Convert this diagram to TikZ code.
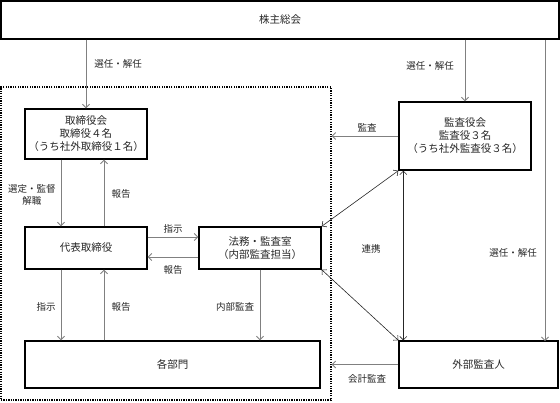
\documentclass[tikz,border=0pt]{standalone}
\usepackage{fontspec}
\setmainfont{Noto Sans CJK JP}
\usetikzlibrary{arrows.meta,calc}
\begin{document}
\begin{tikzpicture}[x=1pt,y=-1pt,
  box/.style={draw=black,line width=1.4pt,inner sep=0pt,align=center,font=\fontsize{10.5}{13}\selectfont,text=black!85},
  arr/.style={draw=black!50,line width=0.8pt,-{Straight Barb[length=3.5pt,width=7pt]}},
  dbl/.style={draw=black!85,line width=0.6pt,{Straight Barb[length=3.5pt,width=7pt]}-{Straight Barb[length=3.5pt,width=7pt]}},
  lbl/.style={inner sep=0pt,align=center,font=\fontsize{9.5}{11.5}\selectfont,text=black!85},
  grpbox/.style={draw=black,line width=1.3pt,dash pattern=on 1.3pt off 1.1pt,inner sep=0pt}]
\useasboundingbox (0,0) rectangle (560,402);
% group
\node[grpbox,minimum width=330pt,minimum height=313pt] (grp) at (166,243.5) {};
% boxes
\node[box,minimum width=558pt,minimum height=38pt] (top) at (280,20) {株主総会};
\node[box,minimum width=122pt,minimum height=50pt] (tori) at (86,134) {取締役会\\取締役４名\\（うち社外取締役１名）};
\node[box,minimum width=122pt,minimum height=42pt] (daihyo) at (86,248) {代表取締役};
\node[box,minimum width=122pt,minimum height=42pt] (homu) at (260,248) {法務・監査室\\（内部監査担当）};
\node[box,minimum width=132pt,minimum height=68pt] (kansa) at (465,136) {監査役会\\監査役３名\\（うち社外監査役３名）};
\node[box,minimum width=295pt,minimum height=47pt] (kakubu) at (172.5,364.5) {各部門};
\node[box,minimum width=159pt,minimum height=47pt] (gaibu) at (478.5,364.5) {外部監査人};
\coordinate (rtop) at (545,40);
\coordinate (rbot) at (545,341);
% arrows
\draw[arr] (top.south -| tori.north) -- (tori.north);
\draw[arr] (top.south -| kansa.north) -- (kansa.north);
\draw[arr] (rtop) -- (rbot);
\draw[arr] ([xshift=-25pt]tori.south) -- ([xshift=-25pt]daihyo.north);
\draw[arr] ([xshift=18pt]daihyo.north) -- ([xshift=18pt]tori.south);
\draw[arr] ([yshift=11pt]daihyo.east) -- ([yshift=11pt]homu.west);
\draw[arr] ([yshift=-9pt]homu.west) -- ([yshift=-9pt]daihyo.east);
\draw[arr] (kansa.west) -- (kansa.west -| grp.east);
\draw[arr] (gaibu.west) -- (gaibu.west -| grp.east);
\draw[arr] ([xshift=-25pt]daihyo.south) -- ([xshift=-25pt]daihyo.south |- kakubu.north);
\draw[arr] ([xshift=18pt]daihyo.south |- kakubu.north) -- ([xshift=18pt]daihyo.south);
\draw[arr] (homu.south) -- (homu.south |- kakubu.north);
\draw[dbl] (kansa.south west) -- (homu.north east);
\draw[dbl] (homu.south east) -- (gaibu.north west);
\draw[dbl] ([xshift=5pt]kansa.south west) -- ([xshift=5pt]kansa.south west |- gaibu.north);
% labels
\node[lbl] (l1) at (118,64) {選任・解任};
\node[lbl] (l2) at (430,66) {選任・解任};
\node[lbl] (l3) at (513,253) {選任・解任};
\node[lbl] (l4) at (32,195) {選定・監督\\解職};
\node[lbl] (l5) at (121,194) {報告};
\node[lbl] (l6) at (173,229) {指示};
\node[lbl] (l7) at (173,270) {報告};
\node[lbl] (l8) at (367,128) {監査};
\node[lbl] (l9) at (371,249) {連携};
\node[lbl] (l10) at (46,307) {指示};
\node[lbl] (l11) at (121,307) {報告};
\node[lbl] (l12) at (235,307) {内部監査};
\node[lbl] (l13) at (367,379) {会計監査};
\end{tikzpicture}
\end{document}
